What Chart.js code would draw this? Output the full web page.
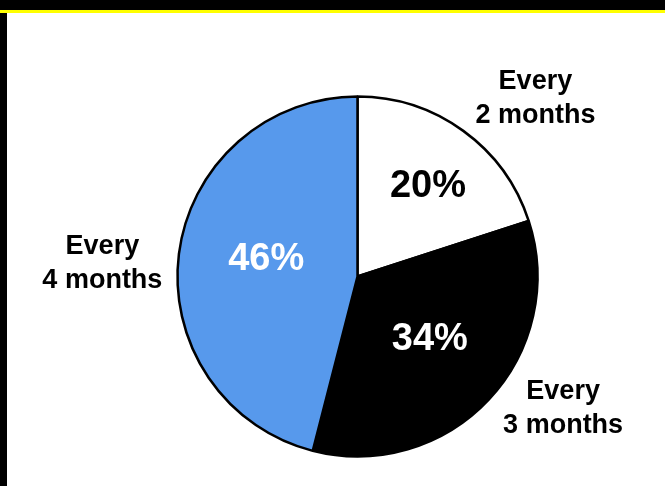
<!DOCTYPE html>
<html lang="en">
<head>
  <meta charset="UTF-8">
  <title>Frequency pie</title>
  <script src="https://cdn.jsdelivr.net/npm/chart.js"></script>
  <style>
    html, body { margin: 0; padding: 0; background: #fff; }
    #wrap { position: relative; width: 665px; height: 486px; overflow: hidden; background: #fff; }
    #topBar { position: absolute; left: 0; top: 0; width: 665px; height: 10px; background: #000; }
    #yellow { position: absolute; left: 0; top: 10px; width: 665px; height: 3px; background: #ffff00; }
    #leftBar { position: absolute; left: 0; top: 13px; width: 7px; height: 473px; background: #000; }
    canvas { position: absolute; left: 0; top: 0; }
  </style>
</head>
<body>
<div id="wrap">
  <canvas id="pie" width="665" height="486"></canvas>
  <div id="topBar"></div>
  <div id="yellow"></div>
  <div id="leftBar"></div>
</div>

<script>
  // data
  const categories = [['Every', '2 months'], ['Every', '3 months'], ['Every', '4 months']];
  const shares = [20, 34, 46];
  const sliceColors = ['#ffffff', '#000000', '#5799ec'];
  const pctColors = ['#000000', '#ffffff', '#ffffff'];

  // where labels sit: degrees clockwise from top, distance in radii
  const pctPlace = [{ a: 37, d: 0.65 }, { a: 129.4, d: 0.52 }, { a: 282.6, d: 0.52 }];
  const namePlace = [{ a: 44.7, d: 1.405 }, { a: 122.2, d: 1.35 }, { a: 273.5, d: 1.42 }];

  const FONT = '"Liberation Sans", Arial, sans-serif';

  const labelPlugin = {
    id: 'sliceLabels',
    afterDatasetsDraw(chart) {
      const ctx = chart.ctx;
      const meta = chart.getDatasetMeta(0);
      const arc0 = meta.data[0];
      const cx = arc0.x, cy = arc0.y, r = arc0.outerRadius;
      ctx.save();
      ctx.textAlign = 'center';
      ctx.textBaseline = 'alphabetic';

      meta.data.forEach((arc, i) => {
        // percent inside slice
        let p = pctPlace[i];
        let rad = p.a * Math.PI / 180;
        let x = cx + Math.sin(rad) * r * p.d;
        let y = cy - Math.cos(rad) * r * p.d;
        ctx.font = 'bold 38px ' + FONT;
        ctx.fillStyle = pctColors[i];
        ctx.fillText(shares[i] + '%', x, y + 0.358 * 38);

        // category name outside
        p = namePlace[i];
        rad = p.a * Math.PI / 180;
        x = cx + Math.sin(rad) * r * p.d;
        y = cy - Math.cos(rad) * r * p.d;
        ctx.font = 'bold 27px ' + FONT;
        ctx.fillStyle = '#000';
        const lines = categories[i];
        const lh = 34;
        lines.forEach((t, k) => {
          const ly = y + (k - (lines.length - 1) / 2) * lh;
          ctx.fillText(t, x, ly + 0.358 * 27);
        });
      });
      ctx.restore();
    }
  };

  new Chart(document.getElementById('pie'), {
    type: 'pie',
    data: {
      labels: categories.map(c => c.join(' ')),
      datasets: [{
        data: shares,
        backgroundColor: sliceColors,
        borderColor: '#000',
        borderWidth: 2.5
      }]
    },
    options: {
      responsive: false,
      animation: false,
      radius: 180,
      layout: { padding: { left: 50, right: 0, top: 67, bottom: 0 } },
      plugins: {
        legend: { display: false },
        tooltip: { enabled: false }
      }
    },
    plugins: [labelPlugin]
  });
</script>
</body>
</html>
